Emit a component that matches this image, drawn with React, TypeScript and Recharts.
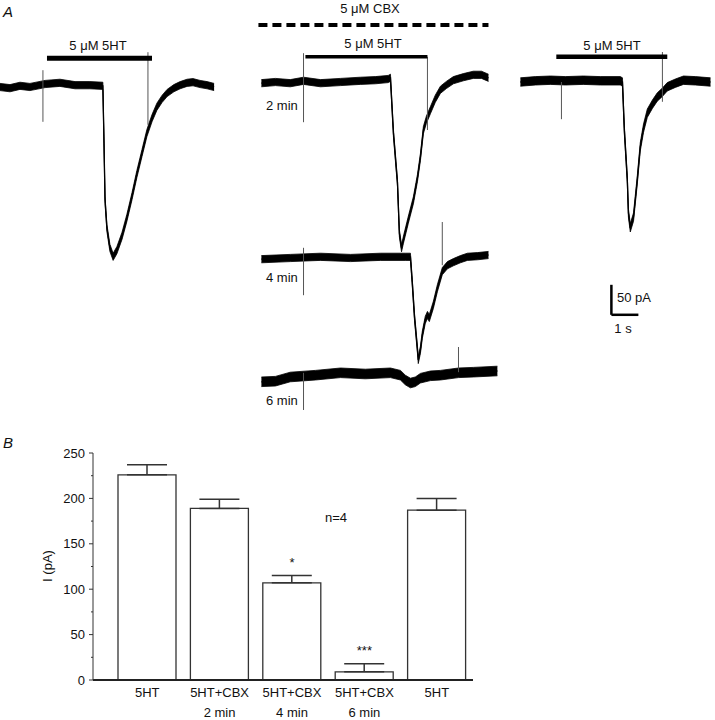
import React from "react";
import {
  ComposedChart,
  Area,
  Line,
  Bar,
  XAxis,
  YAxis,
  ReferenceLine,
  ErrorBar,
  LabelList,
} from "recharts";

const FONT = '"Liberation Sans", Arial, Helvetica, sans-serif';
const INK = "#000";

// shared trace scale (matches the 50 pA / 1 s scale bar)
const PX_PER_S = 27;
const PX_PER_PA = 0.6;

// ---- Panel A: whole-cell currents, time (s) vs current (pA) ----
// control, 5HT alone
const CTRL_T = [0, 0.37, 0.74, 1.11, 1.67, 2.22, 2.78, 3.33, 3.81, 3.85, 3.89, 3.96, 4.07, 4.19, 4.33, 4.52, 4.7, 4.89, 5.07, 5.26, 5.44, 5.63, 5.81, 6.0, 6.19, 6.44, 6.67, 6.93, 7.15, 7.41, 7.67, 7.93];
const CTRL_I = [0, -2, 2, 0, 5, 7, 3, 3, 2, -88, -188, -235, -268, -283, -272, -248, -218, -182, -145, -110, -77, -52, -33, -20, -10, -2, 3, 7, 8, 5, 3, 0];

// CBX 2 min
const CBX2_T = [0, 0.52, 1.07, 1.56, 2.19, 2.93, 3.67, 4.22, 4.7, 4.78, 4.89, 5.04, 5.11, 5.19, 5.26, 5.44, 5.63, 5.78, 5.89, 6.0, 6.11, 6.26, 6.44, 6.63, 6.85, 7.11, 7.48, 7.85, 8.15, 8.41];
const CBX2_I = [-2, 0, -2, 2, -2, 0, 2, 3, 5, 7, -85, -168, -252, -277, -263, -230, -197, -160, -125, -80, -63, -47, -28, -13, -5, 3, 8, 12, 12, 7];

// CBX 4 min
const CBX4_T = [0, 1.07, 2.19, 3.3, 4.41, 5.33, 5.52, 5.59, 5.67, 5.78, 5.81, 5.89, 5.96, 6.07, 6.15, 6.22, 6.37, 6.52, 6.7, 6.89, 7.11, 7.37, 7.63, 8.0, 8.41];
const CBX4_I = [-2, 0, 2, 0, 2, 2, 2, -42, -98, -153, -170, -153, -128, -103, -95, -100, -78, -50, -22, -12, -7, -2, 2, 3, 5];

// CBX 6 min
const CBX6_T = [0, 0.52, 1.07, 2.0, 2.93, 3.85, 4.78, 5.15, 5.33, 5.52, 5.7, 5.89, 6.26, 6.63, 7.3, 7.85, 8.74];
const CBX6_I = [-3, -2, 5, 8, 12, 10, 12, 8, 0, -5, -3, 3, 7, 8, 12, 13, 15];

// washout, 5HT alone
const WASH_T = [0, 0.56, 1.11, 1.67, 2.33, 2.96, 3.7, 3.78, 3.85, 3.96, 4.0, 4.07, 4.19, 4.33, 4.44, 4.56, 4.7, 4.89, 5.07, 5.26, 5.44, 5.74, 6.04, 6.48, 7.04];
const WASH_I = [0, 2, 3, 2, 3, 2, 2, 0, -80, -163, -218, -243, -225, -163, -108, -77, -52, -37, -25, -17, -8, -2, 3, 2, 0];

// application bars (s) and valve artefacts (s, pA range)
const CTRL_STIM = { start: 1.74, end: 5.63, level: 48 };
const CBX2_STIM = { start: 1.63, end: 6.15, level: 42 };
const WASH_STIM = { start: 1.33, end: 5.44, level: 42 };
const CBX_LINE = { start: -0.11, end: 8.41, level: 95 };

const CTRL_ART = [{ t: 1.59, from: 28, to: -58 }, { t: 5.48, from: 58, to: -63 }];
const CBX2_ART = [{ t: 1.56, from: 48, to: -67 }, { t: 6.15, from: 42, to: -80 }];
const CBX4_ART = [{ t: 1.56, from: 17, to: -62 }, { t: 6.7, from: 60, to: -12 }];
const CBX6_ART = [{ t: 1.56, from: 12, to: -50 }, { t: 7.3, from: 55, to: 13 }];
const WASH_ART = [{ t: 1.52, from: 0, to: -62 }, { t: 5.26, from: 50, to: -33 }];

const SCALE_BAR = { t: 3.37, i: -388, pA: 50, s: 1 };

// ---- Panel B: peak current ----
const LABEL_TOP = ["5HT", "5HT+CBX", "5HT+CBX", "5HT+CBX", "5HT"];
const LABEL_BOTTOM = ["", "2 min", "4 min", "6 min", ""];
const MEANS = [226, 189, 107, 9, 187];
const SEMS = [11, 10, 8, 9, 13];
const SIG = ["", "", "*", "***", ""];
const Y_TICKS = [0, 25, 50, 75, 100, 125, 150, 175, 200, 225, 250];

type Art = { t: number; from: number; to: number };
type Stim = { start: number; end: number; level: number };

function Trace({
  left,
  baseline,
  xDomain,
  yDomain,
  time,
  current,
  noise,
  artifacts,
  stim,
  stimWidth,
  extra,
}: {
  left: number;
  baseline: number;
  xDomain: [number, number];
  yDomain: [number, number];
  time: number[];
  current: number[];
  noise: number;
  artifacts: Art[];
  stim?: Stim;
  stimWidth?: number;
  extra?: React.ReactNode[];
}) {
  const width = (xDomain[1] - xDomain[0]) * PX_PER_S;
  const height = (yDomain[1] - yDomain[0]) * PX_PER_PA;
  const top = baseline - yDomain[1] * PX_PER_PA;
  const x = left + xDomain[0] * PX_PER_S;
  const rows = time.map((t, k) => ({
    t,
    i: current[k],
    band: [current[k] - noise, current[k] + noise],
  }));
  return (
    <div style={{ position: "absolute", left: x, top, width, height }}>
      <ComposedChart
        width={width}
        height={height}
        data={rows}
        margin={{ top: 0, right: 0, bottom: 0, left: 0 }}
      >
        <XAxis type="number" dataKey="t" domain={xDomain} hide allowDataOverflow />
        <YAxis type="number" domain={yDomain} hide allowDataOverflow />
        <Area
          type="linear"
          dataKey="band"
          stroke={INK}
          strokeWidth={0.8}
          fill={INK}
          fillOpacity={1}
          dot={false}
          activeDot={false}
          isAnimationActive={false}
        />
        <Line
          type="linear"
          dataKey="i"
          stroke={INK}
          strokeWidth={1.3}
          dot={false}
          activeDot={false}
          isAnimationActive={false}
        />
        {artifacts.map((a, k) => (
          <ReferenceLine
            key={"a" + k}
            segment={[
              { x: a.t, y: a.from },
              { x: a.t, y: a.to },
            ]}
            stroke="#555"
            strokeWidth={1}
          />
        ))}
        {stim && (
          <ReferenceLine
            segment={[
              { x: stim.start, y: stim.level },
              { x: stim.end, y: stim.level },
            ]}
            stroke={INK}
            strokeWidth={stimWidth ?? 4}
          />
        )}
        {extra}
      </ComposedChart>
    </div>
  );
}

function ValueTick(props: any) {
  const { x, y, payload } = props;
  const v = payload.value as number;
  const major = v % 50 === 0;
  return (
    <g>
      <line x1={x + (major ? 4 : 6)} x2={x + 8} y1={y} y2={y} stroke="#333" strokeWidth={1} />
      {major && (
        <text x={x} y={y} dy="0.36em" textAnchor="end" fontSize={13} fontFamily={FONT} fill="#111">
          {v}
        </text>
      )}
    </g>
  );
}

function CategoryTick(props: any) {
  const { x, y, index } = props;
  return (
    <text x={x} y={y} textAnchor="middle" fontSize={13} fontFamily={FONT} fill="#111">
      <tspan x={x} dy={9}>
        {LABEL_TOP[index]}
      </tspan>
      <tspan x={x} dy={20}>
        {LABEL_BOTTOM[index]}
      </tspan>
    </text>
  );
}

export default function App() {
  const barRows = MEANS.map((m, k) => ({
    key: k,
    mean: m,
    err: [0, SEMS[k]],
    top: m + SEMS[k],
    sig: SIG[k],
  }));

  const txt = { fontFamily: FONT, fontSize: 13, fill: "#111" };

  return (
    <div
      style={{
        position: "absolute",
        left: 0,
        top: 0,
        width: 715,
        height: 720,
        overflow: "hidden",
        background: "#fff",
      }}
    >
      <Trace
        left={0}
        baseline={87}
        xDomain={[0, 8.1]}
        yDomain={[-310, 110]}
        time={CTRL_T}
        current={CTRL_I}
        noise={6}
        artifacts={CTRL_ART}
        stim={CTRL_STIM}
        stimWidth={5}
      />
      <Trace
        left={261}
        baseline={82}
        xDomain={[-0.2, 8.6]}
        yDomain={[-300, 110]}
        time={CBX2_T}
        current={CBX2_I}
        noise={6}
        artifacts={CBX2_ART}
        stim={CBX2_STIM}
        stimWidth={3.5}
        extra={[
          <ReferenceLine
            key="cbx"
            segment={[
              { x: CBX_LINE.start, y: CBX_LINE.level },
              { x: CBX_LINE.end, y: CBX_LINE.level },
            ]}
            stroke={INK}
            strokeWidth={4}
            strokeDasharray="9 5"
          />,
        ]}
      />
      <Trace
        left={261}
        baseline={258}
        xDomain={[-0.2, 8.6]}
        yDomain={[-200, 110]}
        time={CBX4_T}
        current={CBX4_I}
        noise={6}
        artifacts={CBX4_ART}
      />
      <Trace
        left={261}
        baseline={380}
        xDomain={[-0.2, 9]}
        yDomain={[-80, 110]}
        time={CBX6_T}
        current={CBX6_I}
        noise={8}
        artifacts={CBX6_ART}
      />
      <Trace
        left={520}
        baseline={82}
        xDomain={[-0.2, 7.2]}
        yDomain={[-400, 110]}
        time={WASH_T}
        current={WASH_I}
        noise={7}
        artifacts={WASH_ART}
        stim={WASH_STIM}
        stimWidth={4.5}
        extra={[
          <ReferenceLine
            key="sv"
            segment={[
              { x: SCALE_BAR.t, y: SCALE_BAR.i + SCALE_BAR.pA },
              { x: SCALE_BAR.t, y: SCALE_BAR.i },
            ]}
            stroke={INK}
            strokeWidth={2.5}
          />,
          <ReferenceLine
            key="sh"
            segment={[
              { x: SCALE_BAR.t, y: SCALE_BAR.i },
              { x: SCALE_BAR.t + SCALE_BAR.s, y: SCALE_BAR.i },
            ]}
            stroke={INK}
            strokeWidth={2.5}
          />,
        ]}
      />

      <div style={{ position: "absolute", left: 0, top: 400 }}>
        <ComposedChart
          width={490}
          height={320}
          data={barRows}
          margin={{ top: 53, right: 17, bottom: 0, left: 0 }}
          barSize={58}
        >
          <XAxis
            dataKey="key"
            type="category"
            padding={{ left: 18, right: 0 }}
            tickLine={false}
            axisLine={{ stroke: "#222", strokeWidth: 2 }}
            height={40}
            interval={0}
            tick={(p: any) => <CategoryTick {...p} />}
          />
          <YAxis
            type="number"
            domain={[0, 250]}
            ticks={Y_TICKS}
            interval={0}
            width={93}
            tickLine={false}
            axisLine={{ stroke: "#333", strokeWidth: 1 }}
            tick={(p: any) => <ValueTick {...p} />}
          />
          <Bar dataKey="mean" fill="#fff" stroke="#333" strokeWidth={1.3} isAnimationActive={false}>
            <ErrorBar
              dataKey="err"
              direction="y"
              width={20}
              stroke="#333"
              strokeWidth={1.5}
              isAnimationActive={false}
            />
          </Bar>
          <Line
            dataKey="top"
            stroke="none"
            dot={false}
            activeDot={false}
            isAnimationActive={false}
          >
            <LabelList dataKey="sig" position="top" offset={9} fontSize={13} fill="#111" fontFamily={FONT} />
          </Line>
        </ComposedChart>
      </div>

      <svg
        width={715}
        height={720}
        style={{ position: "absolute", left: 0, top: 0, pointerEvents: "none" }}
      >
        <text x={3} y={17} fontFamily={FONT} fontSize={15} fontStyle="italic" fill="#111">
          A
        </text>
        <text x={3} y={448} fontFamily={FONT} fontSize={15} fontStyle="italic" fill="#111">
          B
        </text>
        <text x={98} y={50} textAnchor="middle" {...txt}>
          5 μM 5HT
        </text>
        <text x={370} y={13} textAnchor="middle" {...txt}>
          5 μM CBX
        </text>
        <text x={373} y={48} textAnchor="middle" {...txt}>
          5 μM 5HT
        </text>
        <text x={612} y={50} textAnchor="middle" {...txt}>
          5 μM 5HT
        </text>
        <text x={266} y={110} {...txt}>
          2 min
        </text>
        <text x={266} y={282} {...txt}>
          4 min
        </text>
        <text x={266} y={405} {...txt}>
          6 min
        </text>
        <text x={617} y={302} {...txt}>
          50 pA
        </text>
        <text x={623} y={333} textAnchor="middle" {...txt}>
          1 s
        </text>
        <text x={336} y={522} textAnchor="middle" {...txt}>
          n=4
        </text>
        <text
          x={47}
          y={566}
          textAnchor="middle"
          dy="0.36em"
          transform="rotate(-90 47 566)"
          {...txt}
        >
          I (pA)
        </text>
      </svg>
    </div>
  );
}
